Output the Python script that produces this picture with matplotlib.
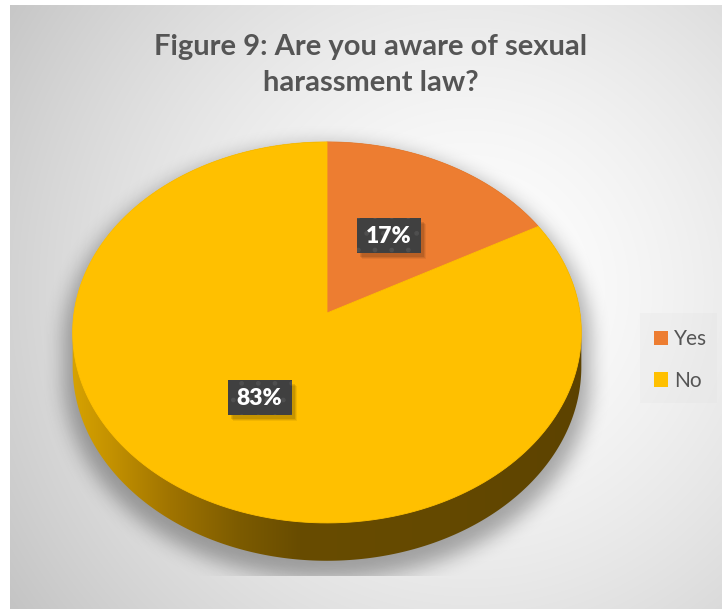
import numpy as np
import matplotlib
matplotlib.use("Agg")
import matplotlib.pyplot as plt
from matplotlib.path import Path
from matplotlib.patches import Polygon, Rectangle, Patch, PathPatch

# ---- data -------------------------------------------------------------
categories = ["Yes", "No"]
shares = [17, 83]
slice_colors = ["#ED7D31", "#FFC000"]
title_text = "Figure 9: Are you aware of sexual\nharassment law?"

# ---- canvas (pixel coordinates) ---------------------------------------
W, H = 722, 609
fig = plt.figure(figsize=(W / 100, H / 100), dpi=100)
fig.patch.set_facecolor("white")
ax = fig.add_axes([0, 0, 1, 1])
ax.set_xlim(0, W)
ax.set_ylim(H, 0)
ax.axis("off")

FONT = ["Lato", "DejaVu Sans"]
TXT = "#555555"

# chart area with a soft radial gradient
AX0, AY0 = 10, 5
gy, gx = np.mgrid[AY0:H, AX0:W] + 0.5
d = np.hypot(gx - 470, gy - 290)
shade = 1 - 0.22 * np.clip(d / 540, 0, 1.3) ** 1.5
bg = np.dstack([shade] * 3)
ax.imshow(bg, extent=(AX0, W, H, AY0), origin="upper", zorder=0,
          interpolation="bilinear")

# ---- 3-D pie geometry (perspective ellipse) ---------------------------
CX, CY = 327.0, 313.0      # projected pie centre
RX, RY = 253.0, 188.5      # projected radii
K = 0.102                  # perspective strength
DEPTH = 34.0               # thickness of the pie


def project(u, v, drop=0.0):
    den = 1 + K * v
    return CX + RX * u / den, CY - RY * v / den + drop / den


def hull(pts):
    pts = sorted(map(tuple, pts))
    def cross(o, a, b):
        return (a[0] - o[0]) * (b[1] - o[1]) - (a[1] - o[1]) * (b[0] - o[0])
    lower, upper = [], []
    for p in pts:
        while len(lower) >= 2 and cross(lower[-2], lower[-1], p) <= 0:
            lower.pop()
        lower.append(p)
    for p in reversed(pts):
        while len(upper) >= 2 and cross(upper[-2], upper[-1], p) <= 0:
            upper.pop()
        upper.append(p)
    return np.array(lower[:-1] + upper[:-1])


t = np.linspace(0, 2 * np.pi, 720, endpoint=False)
tx, ty = project(np.cos(t), np.sin(t))
bx, by = project(np.cos(t), np.sin(t), DEPTH)
outline = hull(np.vstack([np.column_stack([tx, ty]), np.column_stack([bx, by])]))
body_path = Path(np.vstack([outline, outline[:1]]), closed=True)

# soft drop shadow under the pie
yy, xx = np.mgrid[0:H, 0:W] + 0.5
sx = CX + (xx - CX) / 1.035
sy = CY + (yy - 10 - CY) / 1.035
mask = body_path.contains_points(np.column_stack([sx.ravel(), sy.ravel()]))
mask = mask.reshape(H, W).astype(float)


def box(a, r, axis):
    k = 2 * r + 1
    pad = [(0, 0), (0, 0)]
    pad[axis] = (r + 1, r)
    p = np.pad(a, pad, mode="edge")
    c = np.cumsum(p, axis=axis)
    return (c[k:] - c[:-k]) / k if axis == 0 else (c[:, k:] - c[:, :-k]) / k


for _ in range(3):
    mask = box(box(mask, 9, 0), 9, 1)
mask[yy > 576] = 0
mask[xx < AX0] = 0
shadow = np.zeros((H, W, 4))
shadow[..., 3] = 0.32 * mask
ax.imshow(shadow, extent=(0, W, H, 0), origin="upper", zorder=1,
          interpolation="bilinear")

# side wall with a left-to-right golden -> brown gradient
sx_pts = np.array([70, 110, 170, 240, 300, 450, 590])
sc = np.array([[0xD8, 0xA3, 0x00], [0xC4, 0x92, 0x00], [0xA0, 0x74, 0x00],
               [0x7C, 0x5B, 0x00], [0x68, 0x4C, 0x00], [0x64, 0x49, 0x00],
               [0x5C, 0x42, 0x00]]) / 255
cols = np.arange(W) + 0.5
side = np.dstack([np.interp(cols, sx_pts, sc[:, i]) for i in range(3)])
side = np.repeat(side, 2, axis=0)
side_img = ax.imshow(side, extent=(0, W, H, 0), origin="upper", zorder=2,
                     aspect="auto", interpolation="bilinear")
clip = PathPatch(body_path, transform=ax.transData, fc="none", ec="none")
ax.add_patch(clip)
side_img.set_clip_path(clip)

# top face: slices clockwise from 12 o'clock
total = float(sum(shares))
start = 90.0
label_pos = []
for val, col in zip(shares, slice_colors):
    sweep = 360.0 * val / total
    ang = np.radians(np.linspace(start, start - sweep, 200))
    px, py = project(np.cos(ang), np.sin(ang))
    verts = np.vstack([[CX, CY], np.column_stack([px, py])])
    ax.add_patch(Polygon(verts, closed=True, fc=col, ec=col, lw=0.6, zorder=3))
    mid = np.radians(start - sweep / 2)
    label_pos.append(project(0.5 * np.cos(mid), 0.5 * np.sin(mid)))
    start -= sweep

# data labels: dark boxes with a dotted texture and a soft drop shadow
BW, BH = 64, 35
for (lx, ly), val in zip(label_pos, shares):
    for off, a in ((6, 0.06), (5, 0.08), (4, 0.10)):
        ax.add_patch(Rectangle((lx - BW / 2 + off - 1, ly - BH / 2 + off),
                               BW, BH, fc="black", alpha=a, lw=0, zorder=4))
    ax.add_patch(Rectangle((lx - BW / 2, ly - BH / 2), BW, BH,
                           fc="#404040", ec="#4f4f4f", hatch=".", lw=0,
                           zorder=5))
    ax.text(lx, ly + 1, f"{val}%", color="white", fontsize=16.5,
            fontweight="heavy", family=FONT, ha="center", va="center",
            zorder=6)

# title
ax.text(371, 65, title_text, ha="center", va="center", fontsize=21,
        fontweight="bold", color=TXT, family=FONT, linespacing=1.45, zorder=6)

# legend
ax.add_patch(Rectangle((640, 313), 77, 90, fc="#d8d8d8", alpha=0.15, lw=0,
                       zorder=1))
handles = [Patch(fc=c, ec="none") for c in slice_colors]
leg = fig.legend(handles, categories, loc="center left",
                 bbox_to_anchor=(654 / W, 1 - 360 / H), frameon=False,
                 borderpad=0, borderaxespad=0, handlelength=0.68,
                 handleheight=0.68, handletextpad=0.3, labelspacing=1.05,
                 prop={"family": FONT, "size": 15})
for txt in leg.get_texts():
    txt.set_color(TXT)

fig.savefig("out.png", dpi=100, facecolor=fig.get_facecolor())
